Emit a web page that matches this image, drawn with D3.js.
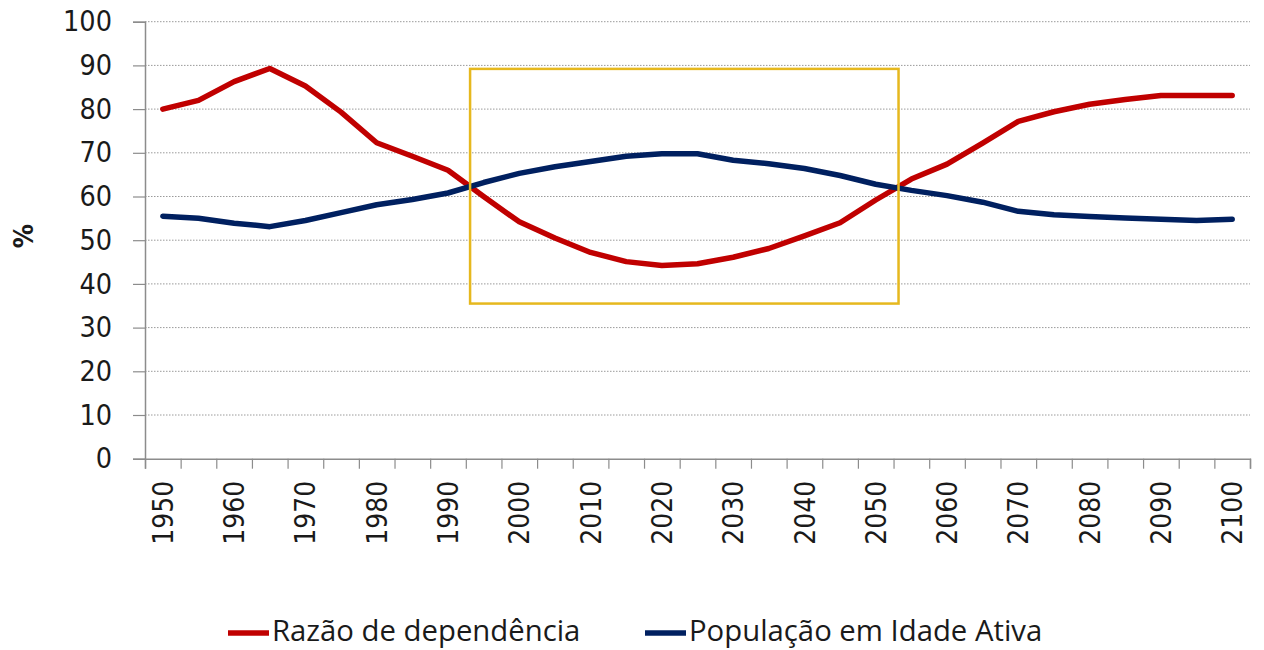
<!DOCTYPE html>
<html>
<head>
<meta charset="utf-8">
<script src="https://cdn.jsdelivr.net/npm/d3@7"></script>
<style>
  body { margin: 0; background: #fff; }
  svg { display: block; }
</style>
</head>
<body>
<div id="chart"></div>
<script>
var width = 1264, height = 650;
var margin = {top: 21.7, right: 14, bottom: 191.3, left: 145};

// data
var years = [1950,1955,1960,1965,1970,1975,1980,1985,1990,1995,2000,2005,2010,2015,2020,2025,
             2030,2035,2040,2045,2050,2055,2060,2065,2070,2075,2080,2085,2090,2095,2100];
var razao = [80,82,86.3,89.3,85.3,79.3,72.3,69.2,66,60,54.2,50.5,47.2,45.1,44.2,44.6,
             46.1,48.1,51,54,59.2,64,67.4,72.2,77.2,79.4,81.1,82.2,83.1,83.1,83.1];
var populacao = [55.5,55,53.9,53.1,54.5,56.3,58.1,59.3,60.8,63.2,65.3,66.8,68,69.2,69.8,69.8,
                 68.3,67.5,66.4,64.8,62.8,61.4,60.2,58.7,56.6,55.8,55.4,55.1,54.8,54.5,54.8];
var yTicks = [0,10,20,30,40,50,60,70,80,90,100];
var xLabels = [1950,1960,1970,1980,1990,2000,2010,2020,2030,2040,2050,2060,2070,2080,2090,2100];
var seriesNames = ["Razão de dependência", "População em Idade Ativa"];
// highlighted period (years) and value range
var boxYears = [1993.1, 2053.2];
var boxValues = [35.5, 89.2];

var colors = ["#c00000", "#002060"];

var svg = d3.select("#chart").append("svg")
  .attr("width", width)
  .attr("height", height);

var plotW = width - margin.left - margin.right;
var plotH = height - margin.top - margin.bottom;

// categories are 5 years wide, points in the middle of each one
var x = d3.scaleLinear()
  .domain([1947.5, 2102.5])
  .range([margin.left, margin.left + plotW]);

var y = d3.scaleLinear()
  .domain([0, 100])
  .range([margin.top + plotH, margin.top]);

// gridlines
svg.append("g")
  .selectAll("line")
  .data(yTicks.slice(1))
  .enter().append("line")
  .attr("x1", x(1947.5))
  .attr("x2", x(2102.5))
  .attr("y1", function(d) { return y(d) })
  .attr("y2", function(d) { return y(d) })
  .attr("stroke", "#9a9a9a")
  .attr("stroke-width", 1)
  .attr("stroke-dasharray", "1.5,1.5");

// Y axis
var yAxis = svg.append("g")
  .attr("transform", "translate(" + margin.left + ",0)")
  .call(d3.axisLeft(y).tickValues(yTicks).tickSize(12).tickPadding(21));
yAxis.select(".domain").attr("stroke", "#8c8c8c").attr("stroke-width", 1.5);
yAxis.selectAll(".tick line").attr("stroke", "#8c8c8c").attr("stroke-width", 1.2);
yAxis.selectAll("text")
  .attr("font-family", "'DejaVu Sans Condensed', 'DejaVu Sans', sans-serif")
  .attr("font-size", 28.5)
  .attr("fill", "#1a1a1a");

// X axis: tick marks on the category edges
var edges = d3.range(0, years.length + 1).map(function(i) { return 1947.5 + 5 * i });
var xAxis = svg.append("g")
  .attr("transform", "translate(0," + (margin.top + plotH) + ")")
  .call(d3.axisBottom(x).tickValues(edges).tickSize(10).tickFormat(""));
xAxis.select(".domain").attr("stroke", "#8c8c8c").attr("stroke-width", 1.5);
xAxis.selectAll(".tick line").attr("stroke", "#8c8c8c").attr("stroke-width", 1.2);

// X labels, rotated
svg.append("g")
  .selectAll("text")
  .data(xLabels)
  .enter().append("text")
  .attr("transform", function(d) { return "translate(" + x(d) + "," + (margin.top + plotH + 22) + ") rotate(-90)" })
  .attr("text-anchor", "end")
  .attr("dy", "0.36em")
  .attr("font-family", "'DejaVu Sans Condensed', 'DejaVu Sans', sans-serif")
  .attr("font-size", 28)
  .attr("fill", "#1a1a1a")
  .text(function(d) { return d });

// Y title
svg.append("text")
  .attr("transform", "translate(23,236) rotate(-90)")
  .attr("text-anchor", "middle")
  .attr("dy", "0.36em")
  .attr("font-family", "'DejaVu Sans Condensed', 'DejaVu Sans', sans-serif")
  .attr("font-weight", "bold")
  .attr("font-size", 27)
  .attr("fill", "#1a1a1a")
  .text("%");

// lines
var line = d3.line()
  .x(function(d, i) { return x(years[i]) })
  .y(function(d) { return y(d) });

[razao, populacao].forEach(function(s, k) {
  svg.append("path")
    .datum(s)
    .attr("fill", "none")
    .attr("stroke", colors[k])
    .attr("stroke-width", 5.5)
    .attr("stroke-linejoin", "round")
    .attr("stroke-linecap", "round")
    .attr("d", line);
});

// highlight box
svg.append("rect")
  .attr("x", x(boxYears[0]))
  .attr("y", y(boxValues[1]))
  .attr("width", x(boxYears[1]) - x(boxYears[0]))
  .attr("height", y(boxValues[0]) - y(boxValues[1]))
  .attr("fill", "none")
  .attr("stroke", "#e6b81e")
  .attr("stroke-width", 2.5);

// legend
var legendX = [228, 645];
var legend = svg.append("g");
seriesNames.forEach(function(name, k) {
  legend.append("line")
    .attr("x1", legendX[k])
    .attr("x2", legendX[k] + 41)
    .attr("y1", 633)
    .attr("y2", 633)
    .attr("stroke", colors[k])
    .attr("stroke-width", 5.5);
  legend.append("text")
    .attr("x", legendX[k] + 44)
    .attr("y", 641)
    .attr("font-family", "'Open Sans', sans-serif")
    .attr("font-size", 29.3)
    .attr("fill", "#1a1a1a")
    .text(name);
});
</script>
</body>
</html>
